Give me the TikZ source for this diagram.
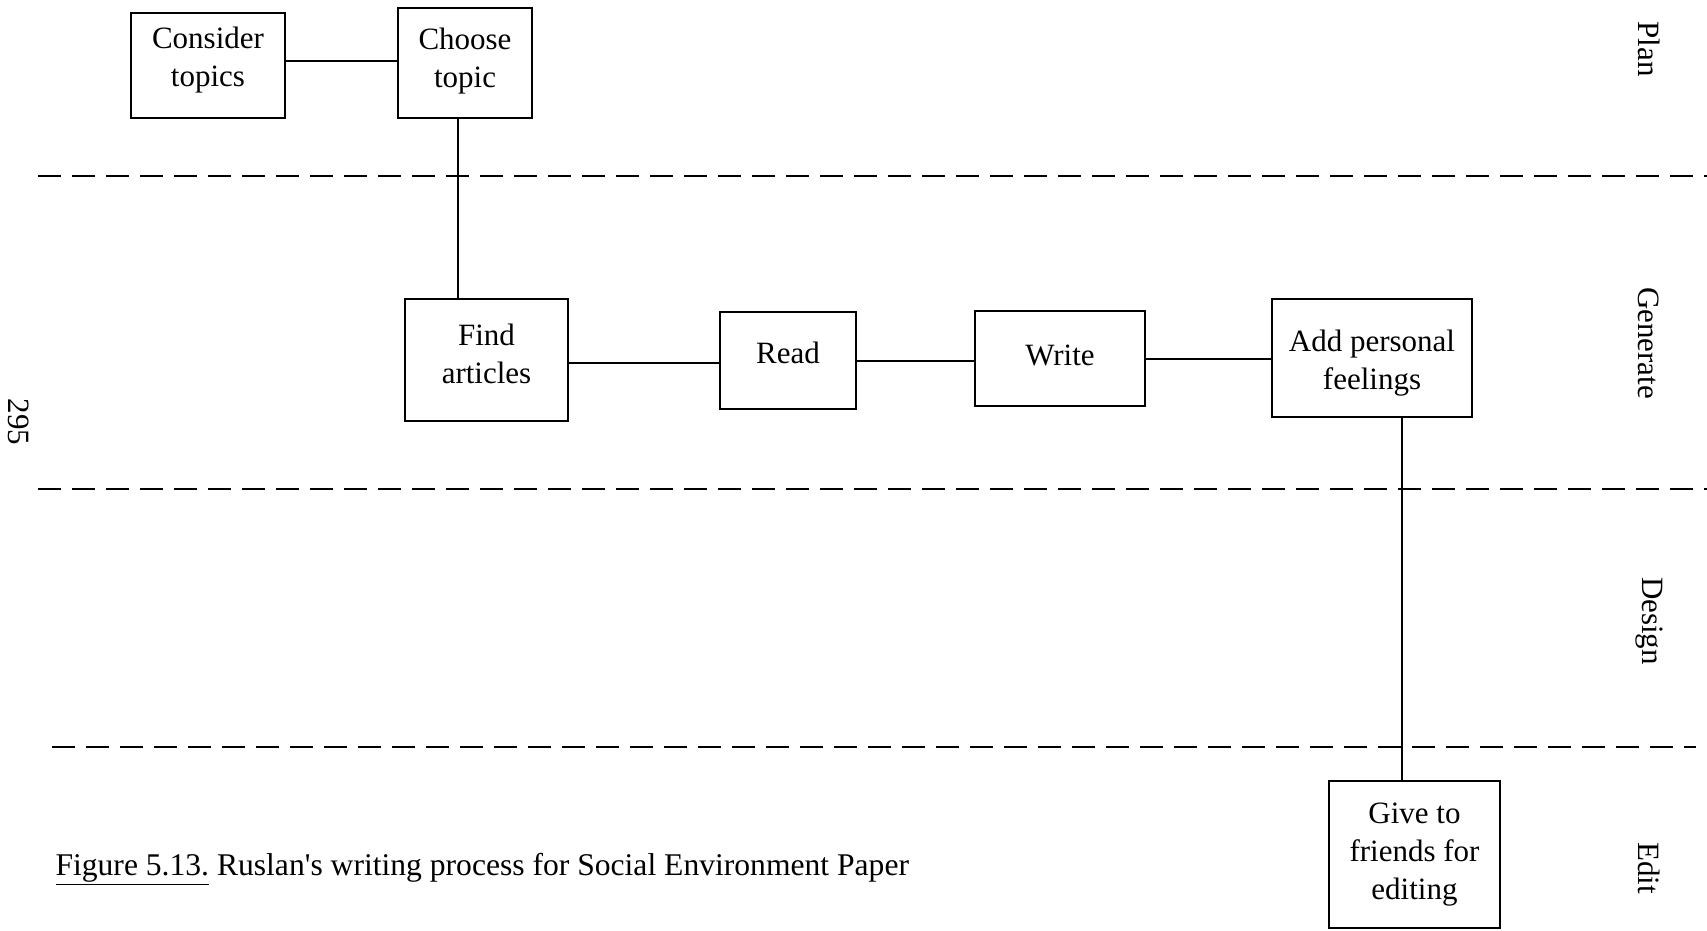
\documentclass[tikz,border=0pt]{standalone}
\usepackage{fontspec}
\setmainfont{Liberation Serif}
\begin{document}
\begin{tikzpicture}[x=1pt,y=-1pt,
  txt/.style={font=\fontsize{31}{38}\selectfont},
  lbl/.style={txt, align=center, inner sep=0pt},
  box/.style={draw, line width=2pt, inner sep=0pt},
  link/.style={line width=2pt},
  lane/.style={line width=1.8pt, dash pattern=on 23pt off 11pt},
  phase/.style={txt, rotate=-90}]
\useasboundingbox (0,0) rectangle (1707,930);

% swim-lane separators
\draw[lane] (38,176) -- (1707,176);
\draw[lane] (38,489) -- (1707,489);
\draw[lane] (52,747) -- (1696,747);

% phase labels
\node[phase] (plan) at (1649,49) {Plan};
\node[phase] (generate) at (1649,343) {Generate};
\node[phase] (design) at (1649,621) {Design};
\node[phase] (edit) at (1649,868) {Edit};

% page number
\node[phase] (page) at (19,422) {295};

% process steps (box plus its centred text)
\node[box, minimum width=154, minimum height=105,
      label={[lbl, yshift=5.5pt]center:Consider\\topics}] (consider) at (208,65.5) {};
\node[box, minimum width=134, minimum height=110,
      label={[lbl, yshift=1.5pt]center:Choose\\topic}] (choose) at (465,63) {};
\node[box, minimum width=163, minimum height=122,
      label={[lbl, yshift=6pt]center:Find\\articles}] (find) at (486.5,360) {};
\node[box, minimum width=136, minimum height=97,
      label={[lbl, yshift=7.5pt]center:Read}] (read) at (788,360.5) {};
\node[box, minimum width=170, minimum height=95,
      label={[lbl, yshift=3pt]center:Write}] (write) at (1060,358.5) {};
\node[box, minimum width=200, minimum height=118,
      label={[lbl, yshift=-5.5pt]center:Add personal\\feelings}] (add) at (1372,358) {};
\node[box, minimum width=171, minimum height=147,
      label={[lbl]center:Give to\\friends for\\editing}] (give) at (1414.5,854.5) {};

% connectors
\draw[link] ([yshift=5pt]consider.east) -- ([yshift=5pt]consider.east -| choose.west);
\draw[link] ([xshift=-7pt]choose.south) -- ([xshift=-7pt]choose.south |- find.north);
\draw[link] ([yshift=-3pt]find.east) -- ([yshift=-3pt]find.east -| read.west);
\draw[link] (read.east) -- (read.east -| write.west);
\draw[link] (write.east) -- (write.east -| add.west);
\draw[link] ([xshift=30pt]add.south) -- ([xshift=30pt]add.south |- give.north);

% caption
\node[txt, anchor=west, font=\fontsize{31.6}{38}\selectfont] (caption) at (52,869)
  {\underline{Figure 5.13.} Ruslan\textquotesingle s writing process for Social Environment Paper};
\end{tikzpicture}
\end{document}
